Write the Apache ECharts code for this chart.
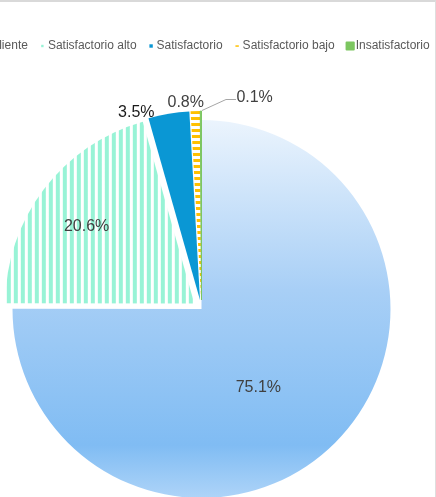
<!DOCTYPE html>
<html><head><meta charset="utf-8">
<script src="https://cdn.jsdelivr.net/npm/echarts@6/dist/echarts.min.js"></script>
<style>
html,body{margin:0;padding:0;background:#fff}
#wrap{position:relative;width:436px;height:497px;overflow:hidden}
#chart{width:436px;height:497px}
#frame{position:absolute;left:0;top:0;width:436px;height:497px;border-top:2px solid #d9d9d9;border-right:1px solid #dedede;box-sizing:border-box;pointer-events:none}
</style>
</head><body><div id="wrap"><div id="chart"></div><div id="frame"></div></div>
<script>
const categories = ['Sobresaliente', 'Satisfactorio alto', 'Satisfactorio', 'Satisfactorio bajo', 'Insatisfactorio'];
const values = [75.1, 20.6, 3.5, 0.8, 0.1];
const labelColors = ['#404040', '#404040', '#1a1a1a', '#404040', '#404040'];

function makeTile(w, h, draw) {
  const c = document.createElement('canvas');
  c.width = w; c.height = h;
  const g = c.getContext('2d');
  g.fillStyle = '#ffffff'; g.fillRect(0, 0, w, h);
  draw(g);
  return c;
}
const stripeTile = makeTile(7, 4, g => { g.fillStyle = '#98f3d6'; g.fillRect(0, 0, 4, 4); });
const dashTile = makeTile(4, 6, g => { g.fillStyle = '#ffc000'; g.fillRect(0, 0, 4, 3); });

const sliceColors = [
  new echarts.graphic.LinearGradient(0, 0, 0, 1, [
    {offset: 0, color: '#ebf4fd'},
    {offset: 0.45, color: '#a8cff6'},
    {offset: 0.86, color: '#80bcf3'},
    {offset: 1, color: '#aed4f8'}
  ]),
  {image: stripeTile, repeat: 'repeat'},
  '#0a97d4',
  {image: dashTile, repeat: 'repeat'},
  '#7cc660'
];
const legendColors = ['#a8cff6', '#98f3d6', '#0a97d4', '#ffc000', '#7cc660'];
const legendIcons = [
  'path://M0 0M8 8M1 1h6v6h-6z',
  'path://M0 0M8 8M2.8 2.8h2.4v2.4h-2.4z',
  'path://M0 0M8 8M2.3 2.3h3.4v3.4h-3.4z',
  'path://M0 0M8 8M2.3 3.3h3.4v1.5h-3.4z',
  'path://M0 0M8 8M0.4 0.4h7.2v7.2h-7.2z'
];

const chart = echarts.init(document.getElementById('chart'), null, {renderer: 'canvas'});
chart.setOption({
  animation: false,
  backgroundColor: '#ffffff',
  legend: {
    left: -55, top: 40, padding: 0,
    itemWidth: 8, itemHeight: 8, itemGap: 10.5,
    selectedMode: false,
    textStyle: {fontFamily: 'Liberation Sans', fontSize: 12, color: '#595959', padding: [0, 0, 0, -3.5]},
    data: categories.map((n, i) => ({name: n, icon: legendIcons[i], itemStyle: {color: legendColors[i]}}))
  },
  series: [{
    type: 'pie',
    center: [201.5, 309],
    radius: 189,
    startAngle: 90,
    clockwise: true,
    avoidLabelOverlap: false,
    selectedMode: 'multiple',
    selectedOffset: 9,
    emphasis: {disabled: true},
    itemStyle: {borderWidth: 0},
    label: {formatter: '{c}%', fontFamily: 'Liberation Sans', fontSize: 16, color: '#404040'},
    labelLine: {lineStyle: {color: '#a6a6a6', width: 1}},
    labelLayout: function (p) {
      const i = p.dataIndex;
      const r = p.rect;
      if (i === 0) return {dx: -12, dy: 10};
      if (i === 1) return {dx: -30, dy: -18};
      if (i === 2) return {dx: 2.5, dy: 8.5};
      if (i === 3) return {dx: 24, dy: 1.5};
      if (i === 4) {
        const ax = r.x + r.width, ay = r.y;
        return {dx: 87, dy: -3,
          labelLinePoints: [[ax, ay], [ax + 24, ay - 11], [ax + 34, ay - 11]]};
      }
      return {};
    },
    data: categories.map((n, i) => ({
      name: n,
      value: values[i],
      selected: i > 0,
      itemStyle: i === 4 ? {color: sliceColors[i], borderColor: '#7cc660', borderWidth: 1} : {color: sliceColors[i]},
      label: {position: i < 2 ? 'inside' : 'outside', color: labelColors[i]},
      labelLine: {show: i === 4, length: 10, length2: 10}
    }))
  }]
});
</script>
</body></html>
